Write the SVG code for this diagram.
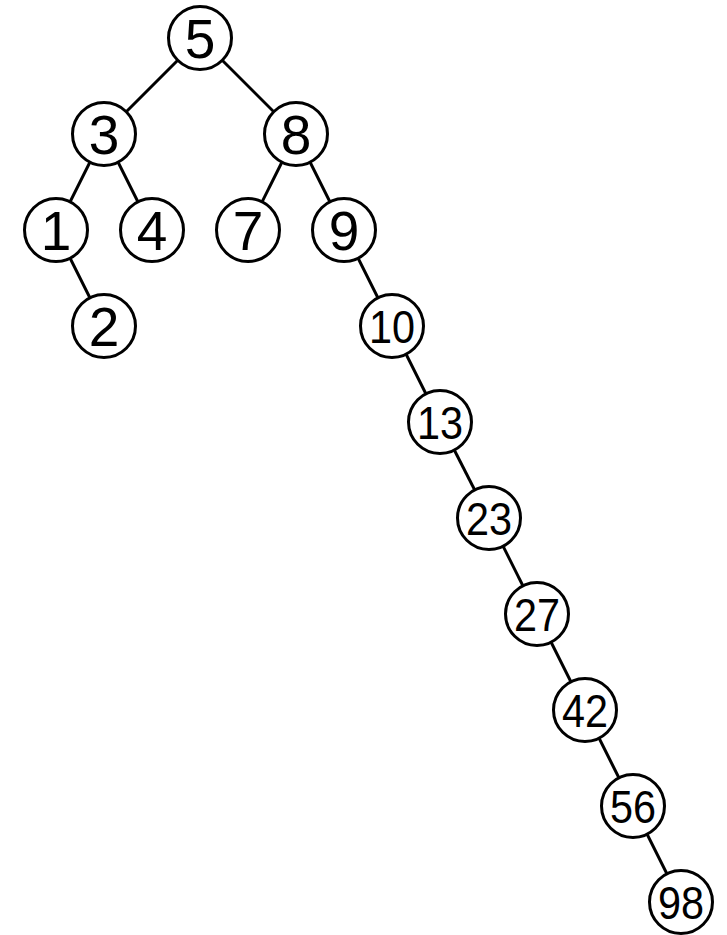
<svg xmlns="http://www.w3.org/2000/svg" width="727" height="935" viewBox="0 0 727 935">
<style>
.n circle{fill:#fff;stroke:#000;stroke-width:3}
.n text{font-family:"Liberation Sans",Arial,sans-serif;fill:#000;text-anchor:middle}
.s{font-size:55px}
.d{font-size:46px}
#edges line{stroke:#000;stroke-width:3}
</style>
<rect width="727" height="935" fill="#fff"/>
<g id="edges">
<line x1="200" y1="38" x2="104" y2="134"/>
<line x1="200" y1="38" x2="296" y2="134"/>
<line x1="104" y1="134" x2="56" y2="230"/>
<line x1="104" y1="134" x2="152" y2="230"/>
<line x1="296" y1="134" x2="248" y2="230"/>
<line x1="296" y1="134" x2="344" y2="230"/>
<line x1="56" y1="230" x2="104" y2="326"/>
<line x1="344" y1="230" x2="392" y2="326"/>
<line x1="392" y1="326" x2="440" y2="422"/>
<line x1="440" y1="422" x2="489" y2="518"/>
<line x1="489" y1="518" x2="537" y2="614"/>
<line x1="537" y1="614" x2="585" y2="710"/>
<line x1="585" y1="710" x2="633" y2="806"/>
<line x1="633" y1="806" x2="681" y2="902"/>
</g>
<g id="n5" class="n"><circle cx="200" cy="38" r="31.5"/><text class="s" x="200" y="58">5</text></g>
<g id="n3" class="n"><circle cx="104" cy="134" r="31.5"/><text class="s" x="104" y="154">3</text></g>
<g id="n8" class="n"><circle cx="296" cy="134" r="31.5"/><text class="s" x="296" y="154">8</text></g>
<g id="n1" class="n"><circle cx="56" cy="230" r="31.5"/><text class="s" x="56" y="250">1</text></g>
<g id="n4" class="n"><circle cx="152" cy="230" r="31.5"/><text class="s" x="152" y="250">4</text></g>
<g id="n7" class="n"><circle cx="248" cy="230" r="31.5"/><text class="s" x="248" y="250">7</text></g>
<g id="n9" class="n"><circle cx="344" cy="230" r="31.5"/><text class="s" x="344" y="250">9</text></g>
<g id="n2" class="n"><circle cx="104" cy="326" r="31.5"/><text class="s" x="104" y="346">2</text></g>
<g id="n10" class="n"><circle cx="392" cy="326" r="31.5"/><text class="d" x="392" y="343" textLength="46" lengthAdjust="spacingAndGlyphs">10</text></g>
<g id="n13" class="n"><circle cx="440" cy="422" r="31.5"/><text class="d" x="440" y="439" textLength="46" lengthAdjust="spacingAndGlyphs">13</text></g>
<g id="n23" class="n"><circle cx="489" cy="518" r="31.5"/><text class="d" x="489" y="535" textLength="46" lengthAdjust="spacingAndGlyphs">23</text></g>
<g id="n27" class="n"><circle cx="537" cy="614" r="31.5"/><text class="d" x="537" y="631" textLength="46" lengthAdjust="spacingAndGlyphs">27</text></g>
<g id="n42" class="n"><circle cx="585" cy="710" r="31.5"/><text class="d" x="585" y="727" textLength="46" lengthAdjust="spacingAndGlyphs">42</text></g>
<g id="n56" class="n"><circle cx="633" cy="806" r="31.5"/><text class="d" x="633" y="823" textLength="46" lengthAdjust="spacingAndGlyphs">56</text></g>
<g id="n98" class="n"><circle cx="681" cy="902" r="31.5"/><text class="d" x="681" y="919" textLength="46" lengthAdjust="spacingAndGlyphs">98</text></g>
</svg>
